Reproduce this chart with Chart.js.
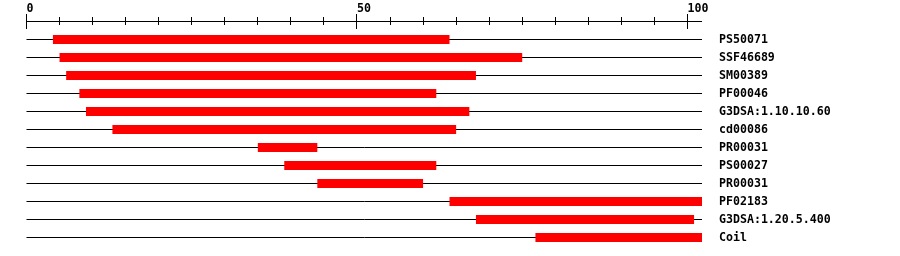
<!DOCTYPE html>
<html>
<head>
<meta charset="utf-8">
<script src="https://cdn.jsdelivr.net/npm/chart.js@4/dist/chart.umd.min.js"></script>
<style>
html,body{margin:0;padding:0;background:#fff;}
#wrap{width:900px;height:256px;position:relative;}
</style>
</head>
<body>
<div id="wrap"><canvas id="c" width="900" height="256"></canvas></div>
<script>
// ---- data ----
const categories = ["PS50071","SSF46689","SM00389","PF00046","G3DSA:1.10.10.60","cd00086","PR00031","PS00027","PR00031","PF02183","G3DSA:1.20.5.400","Coil"];
const starts = [4, 5, 6, 8, 9, 13, 35, 39, 44, 64, 68, 77];
const ends   = [64, 75, 68, 62, 67, 65, 44, 62, 60, 102.2, 101, 102.2];
const seqLength = 102.2;
const tickStep = 5;
const tickLabels = [0, 50, 100];

const FONT = {family: '"DejaVu Sans Mono", "Liberation Mono", monospace', size: 11.6, weight: 'bold'};

const topAxisPlugin = {
  id: 'topAxis',
  afterDraw(chart) {
    const xs = chart.scales.x;
    const ctx = chart.ctx;
    const y = Math.floor(chart.chartArea.top - 9);
    ctx.save();
    ctx.strokeStyle = '#000';
    ctx.lineWidth = 1;
    ctx.beginPath();
    ctx.moveTo(chart.chartArea.left - 0.5, y + 0.5);
    ctx.lineTo(chart.chartArea.right, y + 0.5);
    ctx.stroke();
    xs.ticks.forEach(t => {
      const px = Math.floor(xs.getPixelForValue(t.value)) + 0.5;
      const major = tickLabels.includes(t.value);
      const up = major ? 7 : 4;
      const down = major ? 8 : 4;
      ctx.beginPath();
      ctx.moveTo(px, y - up);
      ctx.lineTo(px, y + down);
      ctx.stroke();
    });
    ctx.restore();
  }
};

new Chart(document.getElementById('c'), {
  type: 'bar',
  data: {
    labels: categories,
    datasets: [{
      data: starts.map((s, i) => [s, ends[i]]),
      backgroundColor: '#ff0000',
      borderWidth: 0,
      barPercentage: 0.5,
      categoryPercentage: 1.0
    }]
  },
  options: {
    indexAxis: 'y',
    responsive: false,
    animation: false,
    events: [],
    layout: {padding: {left: 26.5, right: 0, top: 0.5, bottom: 9.5}},
    plugins: {legend: {display: false}, tooltip: {enabled: false}},
    scales: {
      x: {
        type: 'linear',
        position: 'top',
        min: 0,
        max: seqLength,
        grid: {display: false, drawTicks: false},
        border: {display: false},
        afterBuildTicks(scale) {
          const t = [];
          for (let v = 0; v <= tickLabels[tickLabels.length - 1]; v += tickStep) t.push({value: v});
          scale.ticks = t;
        },
        afterFit(scale) { scale.height = 30; scale.paddingLeft = 0; scale.paddingRight = 0; },
        ticks: {
          autoSkip: false,
          maxRotation: 0,
          align: 'start',
          padding: 15,
          color: '#000',
          font: FONT,
          callback: (v) => tickLabels.includes(v) ? String(v) : ''
        }
      },
      y: {
        type: 'category',
        position: 'right',
        offset: true,
        grid: {display: true, offset: false, drawTicks: false, drawOnChartArea: true, color: '#000', lineWidth: 1},
        border: {display: false},
        afterFit(scale) { scale.width = 198; scale.paddingTop = 0; scale.paddingBottom = 0; },
        ticks: {
          padding: 17,
          color: '#000',
          font: FONT,
          autoSkip: false
        }
      }
    }
  },
  plugins: [topAxisPlugin]
});
</script>
</body>
</html>
